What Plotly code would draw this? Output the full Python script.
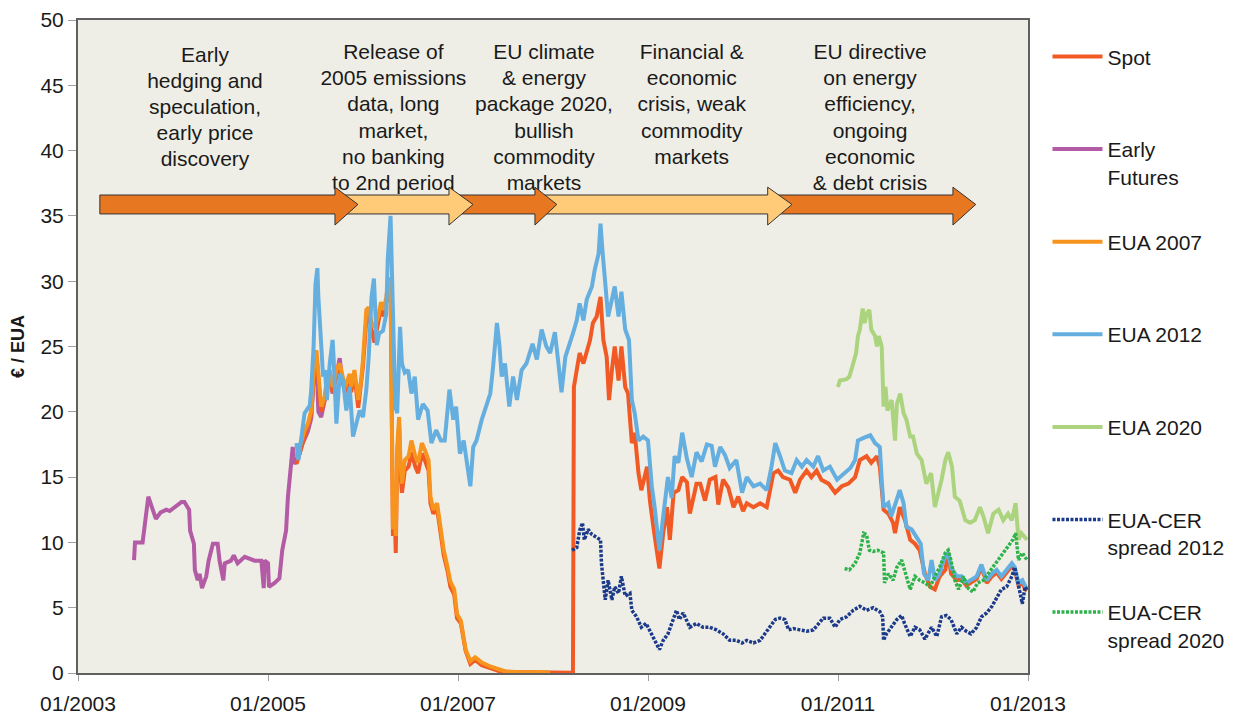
import plotly.graph_objects as go

# ---------------- data (decimal year, €/EUA) ----------------
early_x = [2003.59, 2003.60, 2003.68, 2003.74, 2003.82, 2003.87, 2003.93, 2003.965, 2004.09, 2004.12,
           2004.17, 2004.18, 2004.22, 2004.23, 2004.26, 2004.28, 2004.305, 2004.35, 2004.375, 2004.42,
           2004.47, 2004.49, 2004.53, 2004.545, 2004.61, 2004.64, 2004.68, 2004.755, 2004.86, 2004.93,
           2004.955, 2004.965, 2005.0, 2005.01, 2005.07, 2005.12, 2005.15, 2005.19, 2005.21, 2005.23,
           2005.26, 2005.28, 2005.32, 2005.36, 2005.42, 2005.455, 2005.49, 2005.51, 2005.53, 2005.56,
           2005.60, 2005.62, 2005.65, 2005.68, 2005.72, 2005.755, 2005.78]
early_y = [8.65, 10.0, 10.0, 13.5, 11.8, 12.3, 12.5, 12.4, 13.1, 13.1,
           12.5, 10.9, 9.9, 7.9, 7.1, 7.6, 6.5, 7.4, 8.6, 9.9,
           9.9, 8.6, 7.1, 8.4, 8.6, 9.0, 8.4, 8.9, 8.6, 8.6,
           6.5, 8.6, 8.4, 6.6, 6.9, 7.25, 9.4, 10.9, 13.5, 15.0,
           17.3, 16.0, 16.5, 17.5, 18.5, 19.5, 23.8, 24.3, 20.0, 19.6,
           21.0, 22.4, 23.0, 21.4, 23.0, 24.1, 22.5]

spot_x = [2005.30, 2005.36, 2005.42, 2005.455, 2005.49, 2005.51, 2005.53, 2005.56, 2005.60, 2005.62,
          2005.65, 2005.68, 2005.72, 2005.755, 2005.81, 2005.86, 2005.875, 2005.91, 2005.95, 2005.98,
          2006.0, 2006.035, 2006.06, 2006.09, 2006.12, 2006.16, 2006.19, 2006.22, 2006.245, 2006.27,
          2006.29, 2006.30, 2006.315, 2006.33, 2006.345, 2006.36, 2006.38, 2006.395, 2006.41, 2006.44,
          2006.48, 2006.51, 2006.55, 2006.58, 2006.62, 2006.65, 2006.69, 2006.71, 2006.74, 2006.78,
          2006.82, 2006.85, 2006.89, 2006.92, 2006.96, 2006.99, 2007.03, 2007.08, 2007.13, 2007.18,
          2007.25, 2007.34, 2007.43, 2007.55, 2007.8, 2008.0, 2008.21,
          2008.22, 2008.25, 2008.28, 2008.32, 2008.355, 2008.39, 2008.42, 2008.46, 2008.50, 2008.53,
          2008.565, 2008.59, 2008.62, 2008.65, 2008.69, 2008.72, 2008.76, 2008.79, 2008.83, 2008.86,
          2008.90, 2008.93, 2008.99, 2009.02, 2009.06, 2009.09, 2009.12, 2009.16, 2009.20, 2009.23,
          2009.27, 2009.32, 2009.36, 2009.41, 2009.44, 2009.49, 2009.51, 2009.55, 2009.60, 2009.65,
          2009.71, 2009.74, 2009.79, 2009.845, 2009.90, 2009.95, 2010.00, 2010.04, 2010.11, 2010.18,
          2010.25, 2010.32, 2010.37, 2010.42, 2010.495, 2010.55, 2010.60, 2010.67, 2010.72, 2010.775,
          2010.825, 2010.90, 2010.97, 2011.04, 2011.11, 2011.18, 2011.23, 2011.30, 2011.35, 2011.41,
          2011.44, 2011.48, 2011.53, 2011.58, 2011.60, 2011.65, 2011.705, 2011.76, 2011.81, 2011.86,
          2011.915, 2011.97, 2012.02, 2012.07, 2012.13, 2012.16, 2012.19, 2012.25, 2012.30, 2012.35,
          2012.40, 2012.46, 2012.51, 2012.565, 2012.62, 2012.67, 2012.72, 2012.775, 2012.83, 2012.86,
          2012.90, 2012.94, 2012.97, 2012.99]
spot_y = [16.0, 17.5, 18.8, 19.8, 23.5, 24.3, 22.5, 20.0, 21.0, 22.3,
          22.8, 21.5, 22.8, 23.3, 21.5, 22.5, 21.5, 22.8, 20.3, 22.0,
          23.5, 27.0, 27.5, 26.3, 25.3, 26.8, 28.0, 27.3, 28.3, 29.5,
          29.8, 20.0, 10.5, 13.0, 9.2, 16.5, 19.0, 15.3, 13.8, 15.5,
          15.8, 16.9, 15.8, 15.3, 16.8, 16.3, 15.5, 13.0, 12.2, 12.6,
          10.5, 9.0, 7.8, 6.6, 6.0, 4.2, 3.8, 1.7, 0.7, 1.0,
          0.6, 0.4, 0.15, 0.08, 0.03, 0.02, 0.02,
          21.9, 23.2, 24.5, 23.7, 24.5, 25.5, 26.8, 27.3, 28.8, 25.5,
          24.2, 20.9, 23.2, 25.0, 22.4, 25.0, 21.9, 21.4, 17.6, 18.4,
          15.3, 14.0, 15.8, 13.2, 11.0, 9.2, 8.0, 10.7, 12.7, 10.2,
          13.8, 14.0, 15.0, 14.6, 12.2, 13.8, 14.5, 14.5, 13.2, 14.8,
          15.0, 12.9, 14.8, 14.2, 12.7, 13.5, 12.4, 13.0, 12.7, 13.0,
          12.7, 15.3, 15.5, 15.0, 14.8, 13.8, 14.8, 15.5, 15.0, 15.5,
          14.8, 14.5, 13.8, 14.3, 14.5, 15.0, 16.3, 16.6, 16.1, 16.6,
          15.8, 12.5, 12.2, 11.5, 10.7, 12.7, 11.7, 10.2, 9.9, 9.4,
          7.6, 6.6, 6.4, 7.4, 7.9, 9.2, 7.6, 7.1, 7.2, 6.7,
          6.9, 7.2, 8.1, 6.9, 7.4, 7.7, 7.2, 7.7, 8.2, 7.9,
          6.7, 6.9, 6.4, 6.3]

eua2007_x = [2005.30, 2005.36, 2005.385, 2005.42, 2005.455, 2005.49, 2005.51, 2005.53, 2005.56, 2005.60,
             2005.62, 2005.65, 2005.68, 2005.72, 2005.755, 2005.81, 2005.86, 2005.875, 2005.91, 2005.95,
             2005.98, 2006.0, 2006.035, 2006.06, 2006.09, 2006.12, 2006.16, 2006.19, 2006.22, 2006.245,
             2006.27, 2006.29, 2006.30, 2006.315, 2006.33, 2006.345, 2006.36, 2006.38, 2006.395, 2006.41,
             2006.44, 2006.48, 2006.51, 2006.55, 2006.58, 2006.62, 2006.65, 2006.69, 2006.71, 2006.74,
             2006.78, 2006.82, 2006.85, 2006.89, 2006.92, 2006.96, 2006.99, 2007.03, 2007.06, 2007.08,
             2007.13, 2007.18, 2007.2, 2007.25, 2007.34, 2007.43, 2007.5, 2007.6, 2007.8, 2007.97]
eua2007_y = [16.5, 18.0, 18.6, 19.1, 20.1, 24.2, 24.7, 23.0, 20.4, 21.2,
             22.7, 23.2, 21.9, 23.2, 23.7, 21.9, 22.9, 21.9, 23.2, 20.9,
             22.4, 24.0, 27.8, 28.0, 26.8, 26.5, 27.3, 28.4, 27.8, 28.8,
             30.1, 30.2, 20.4, 11.0, 13.5, 10.5, 17.3, 19.6, 16.1, 14.5,
             16.3, 16.6, 17.8, 16.6, 16.1, 17.6, 17.1, 16.3, 13.5, 12.5,
             13.0, 10.9, 9.4, 8.1, 7.0, 6.4, 4.5, 4.0, 2.6, 1.8,
             0.9, 1.2, 1.1, 0.8, 0.5, 0.25, 0.12, 0.08, 0.06, 0.04]

eua2012_x = [2005.30, 2005.32, 2005.385, 2005.44, 2005.455, 2005.48, 2005.50, 2005.52, 2005.53, 2005.555,
             2005.58, 2005.60, 2005.62, 2005.65, 2005.68, 2005.69, 2005.72, 2005.755, 2005.79, 2005.825,
             2005.86, 2005.895, 2005.93, 2005.965, 2006.0, 2006.035, 2006.06, 2006.09, 2006.115, 2006.13,
             2006.145, 2006.17, 2006.21, 2006.245, 2006.26, 2006.29, 2006.30, 2006.32, 2006.34, 2006.36,
             2006.375, 2006.39, 2006.41, 2006.44, 2006.475, 2006.51, 2006.545, 2006.58, 2006.63, 2006.68,
             2006.72, 2006.77, 2006.82, 2006.86, 2006.91, 2006.95, 2006.98, 2007.02, 2007.06, 2007.09,
             2007.13, 2007.16, 2007.195, 2007.25, 2007.30, 2007.34, 2007.37, 2007.41, 2007.435, 2007.46,
             2007.495, 2007.54, 2007.58, 2007.62, 2007.67, 2007.72, 2007.785, 2007.83, 2007.88, 2007.93,
             2007.97, 2008.02, 2008.06, 2008.09, 2008.13, 2008.18, 2008.21, 2008.25, 2008.28, 2008.32,
             2008.355, 2008.41, 2008.44, 2008.48, 2008.50, 2008.52, 2008.55, 2008.58, 2008.62, 2008.65,
             2008.69, 2008.72, 2008.76, 2008.80, 2008.83, 2008.86, 2008.90, 2008.95, 2009.00, 2009.04,
             2009.07, 2009.12, 2009.16, 2009.21, 2009.25, 2009.28, 2009.32, 2009.36, 2009.41, 2009.46,
             2009.51, 2009.565, 2009.62, 2009.67, 2009.705, 2009.76, 2009.81, 2009.86, 2009.93, 2009.99,
             2010.04, 2010.11, 2010.18, 2010.25, 2010.30, 2010.34, 2010.39, 2010.44, 2010.51, 2010.565,
             2010.62, 2010.67, 2010.74, 2010.79, 2010.845, 2010.915, 2010.99, 2011.06, 2011.13, 2011.18,
             2011.21, 2011.27, 2011.34, 2011.39, 2011.44, 2011.46, 2011.48, 2011.53, 2011.56, 2011.615,
             2011.65, 2011.69, 2011.72, 2011.775, 2011.83, 2011.87, 2011.905, 2011.95, 2011.985, 2012.02,
             2012.07, 2012.11, 2012.16, 2012.19, 2012.25, 2012.30, 2012.35, 2012.40, 2012.46, 2012.51,
             2012.565, 2012.62, 2012.67, 2012.72, 2012.775, 2012.83, 2012.86, 2012.90, 2012.94, 2012.97,
             2012.99]
eua2012_y = [17.6, 16.3, 19.9, 20.5, 21.7, 25.0, 29.8, 31.0, 28.8, 25.0,
             22.7, 23.2, 20.9, 23.7, 25.5, 24.2, 19.1, 22.9, 22.4, 20.1,
             21.9, 18.1, 19.1, 20.1, 19.6, 21.7, 24.2, 28.8, 30.2, 27.5,
             25.1, 26.0, 26.2, 27.5, 31.6, 35.0, 31.9, 23.7, 20.4, 19.9,
             24.2, 26.5, 23.7, 23.0, 23.2, 21.4, 22.7, 19.4, 20.6, 20.1,
             17.6, 18.6, 17.8, 17.8, 21.7, 19.4, 20.4, 16.8, 17.8, 16.1,
             14.3, 17.3, 17.8, 19.4, 20.4, 21.4, 23.5, 26.8, 25.2, 22.7,
             23.7, 20.4, 22.7, 20.9, 23.2, 23.7, 25.2, 24.0, 26.3, 25.0,
             24.5, 26.1, 23.5, 21.5, 24.2, 25.5, 26.0, 27.0, 28.3, 27.0,
             28.6, 29.6, 30.9, 32.1, 34.4, 32.4, 30.1, 27.3, 28.6, 29.6,
             27.3, 29.2, 26.3, 25.5, 20.9, 19.9, 17.8, 18.1, 17.8, 14.3,
             12.7, 9.4, 12.0, 15.0, 13.4, 16.6, 16.1, 18.4, 16.4, 15.0,
             16.9, 16.2, 17.5, 17.4, 15.8, 17.3, 16.7, 15.7, 16.3, 13.8,
             15.0, 14.3, 14.5, 14.0, 15.8, 17.6, 16.6, 15.5, 15.3, 16.3,
             15.8, 16.3, 15.8, 16.6, 15.5, 15.8, 14.8, 15.3, 15.7, 16.3,
             17.8, 18.0, 18.2, 17.6, 17.3, 14.8, 12.7, 13.0, 12.0, 13.2,
             14.0, 13.0, 11.2, 11.0, 10.4, 9.9, 7.6, 7.1, 8.65, 7.1,
             7.6, 8.65, 9.2, 8.1, 7.4, 7.4, 6.9, 7.1, 7.4, 8.3,
             7.1, 7.6, 7.9, 7.4, 7.9, 8.4, 8.1, 6.9, 7.1, 6.6,
             6.4]

eua2020_x = [2011.00, 2011.02, 2011.09, 2011.12, 2011.16, 2011.19, 2011.21, 2011.23, 2011.26, 2011.28,
             2011.30, 2011.33, 2011.35, 2011.39, 2011.41, 2011.43, 2011.46, 2011.48, 2011.50, 2011.52,
             2011.565, 2011.60, 2011.62, 2011.655, 2011.69, 2011.72, 2011.76, 2011.79, 2011.83, 2011.88,
             2011.93, 2011.98, 2012.02, 2012.06, 2012.09, 2012.13, 2012.16, 2012.20, 2012.23, 2012.28,
             2012.34, 2012.39, 2012.44, 2012.495, 2012.53, 2012.58, 2012.635, 2012.69, 2012.74, 2012.79,
             2012.83, 2012.87, 2012.90, 2012.93, 2012.99]
eua2020_y = [21.9, 22.4, 22.5, 22.7, 23.7, 24.5, 25.8, 26.3, 27.9, 26.8,
             27.5, 27.8, 26.3, 25.8, 25.0, 25.8, 25.0, 20.4, 21.9, 20.1,
             20.9, 17.8, 20.6, 21.4, 19.9, 19.4, 18.1, 18.1, 16.8, 16.3,
             14.5, 15.3, 12.7, 13.8, 14.8, 16.3, 16.9, 15.8, 13.5, 13.2,
             11.7, 11.5, 11.7, 12.7, 12.0, 10.7, 12.2, 12.5, 11.7, 12.2,
             11.7, 13.0, 10.2, 10.7, 10.2]

cer2012_x = [2008.20, 2008.25, 2008.28, 2008.31, 2008.33, 2008.37, 2008.41, 2008.46, 2008.50, 2008.51,
             2008.53, 2008.55, 2008.58, 2008.62, 2008.65, 2008.69, 2008.72, 2008.76, 2008.81, 2008.83,
             2008.88, 2008.93, 2008.98, 2009.04, 2009.07, 2009.12, 2009.16, 2009.21, 2009.25, 2009.30,
             2009.33, 2009.37, 2009.44, 2009.51, 2009.58, 2009.65, 2009.72, 2009.79, 2009.86, 2009.93,
             2009.99, 2010.04, 2010.11, 2010.18, 2010.23, 2010.28, 2010.34, 2010.39, 2010.44, 2010.48,
             2010.53, 2010.60, 2010.67, 2010.74, 2010.79, 2010.845, 2010.915, 2010.97, 2011.02, 2011.09,
             2011.16, 2011.23, 2011.30, 2011.37, 2011.44, 2011.47, 2011.48, 2011.51, 2011.56, 2011.62,
             2011.67, 2011.70, 2011.76, 2011.81, 2011.86, 2011.915, 2011.985, 2012.04, 2012.09, 2012.14,
             2012.19, 2012.25, 2012.30, 2012.35, 2012.40, 2012.46, 2012.51, 2012.565, 2012.62, 2012.67,
             2012.72, 2012.775, 2012.83, 2012.86, 2012.90, 2012.94, 2012.97, 2012.99]
cer2012_y = [9.4, 9.6, 10.9, 11.5, 10.2, 11.0, 10.6, 10.4, 10.2, 8.4,
             7.1, 5.6, 7.1, 5.6, 6.6, 6.1, 7.4, 5.9, 6.1, 4.8,
             4.3, 3.5, 3.8, 3.0, 2.5, 1.8, 2.5, 3.0, 3.8, 4.8,
             4.1, 4.6, 3.5, 3.8, 3.5, 3.5, 3.3, 3.0, 2.5, 2.5,
             2.3, 2.5, 2.3, 2.5, 3.0, 3.5, 4.1, 4.2, 4.1, 3.3,
             3.4, 3.3, 3.2, 3.3, 3.7, 4.2, 4.2, 3.5, 4.1, 4.3,
             4.8, 5.1, 4.8, 5.0, 4.7, 4.3, 2.5, 3.0, 3.5, 4.1,
             4.4, 3.8, 2.8, 3.5, 3.3, 2.6, 3.5, 2.8, 4.3, 4.4,
             4.1, 3.0, 3.5, 3.2, 3.0, 3.5, 4.3, 4.6, 5.1, 5.8,
             6.4, 6.6, 7.4, 8.1, 6.6, 5.3, 6.6, 6.3]

cer2020_x = [2011.07, 2011.12, 2011.18, 2011.23, 2011.27, 2011.30, 2011.33, 2011.37, 2011.42, 2011.48,
             2011.49, 2011.53, 2011.58, 2011.62, 2011.67, 2011.71, 2011.76, 2011.81, 2011.86, 2011.915,
             2011.97, 2012.02, 2012.07, 2012.13, 2012.16, 2012.19, 2012.23, 2012.27, 2012.32, 2012.37,
             2012.42, 2012.47, 2012.53, 2012.58, 2012.63, 2012.68, 2012.74, 2012.79, 2012.84, 2012.87,
             2012.90, 2012.94, 2012.99]
cer2020_y = [8.0, 7.9, 8.4, 9.2, 10.7, 10.6, 9.4, 9.3, 9.4, 9.2,
             6.9, 7.6, 7.1, 8.1, 8.65, 7.6, 6.4, 7.4, 7.1, 6.9,
             6.6, 7.4, 8.1, 9.2, 9.4, 8.6, 7.1, 6.4, 7.4, 6.5,
             6.2, 6.9, 7.1, 7.6, 8.1, 8.65, 9.2, 9.7, 10.2, 10.7,
             8.65, 9.2, 8.65]

tick_vals = [2003, 2005, 2007, 2009, 2011, 2013]
tick_text = ["01/2003", "01/2005", "01/2007", "01/2009", "01/2011", "01/2013"]

phase_labels = [
    ["Early", "hedging and", "speculation,", "early price", "discovery"],
    ["Release of", "2005 emissions", "data, long", "market,", "no banking", "to 2nd period"],
    ["EU climate", "& energy", "package 2020,", "bullish", "commodity", "markets"],
    ["Financial &", "economic", "crisis, weak", "commodity", "markets"],
    ["EU directive", "on energy", "efficiency,", "ongoing", "economic", "& debt crisis"],
]

# ---------------- styling / layout ----------------
FONT = "Liberation Sans, Arial, sans-serif"
TXT = "#1a1a1a"
AXIS = "#606060"

fig = go.Figure()

def add_line(x, y, name, color, rank, dash="solid", width=4):
    fig.add_trace(go.Scatter(
        x=x, y=y, mode="lines", name=name, legendgroup=name, legendrank=rank,
        line=dict(color=color, width=width, dash=dash), hoverinfo="skip"))

add_line(early_x, early_y, "Early<br>Futures", "#B35BA5", 2)
add_line(spot_x, spot_y, "Spot<br> ", "#F15A24", 1)
add_line(eua2007_x, eua2007_y, "EUA 2007<br> ", "#F7941D", 3)
add_line(eua2012_x, eua2012_y, "EUA 2012<br> ", "#64AEE0", 4)
add_line(eua2020_x, eua2020_y, "EUA 2020<br> ", "#ACD47F", 5)
add_line(cer2012_x, cer2012_y, "EUA-CER<br>spread 2012", "#1B3A8A", 6, dash="3px,1.5px", width=3.5)
add_line(cer2020_x, cer2020_y, "EUA-CER<br>spread 2020", "#2DB34A", 7, dash="3px,1.5px", width=3.5)

# phase description texts (drawn as a text trace so the arrows can sit over them)
centers = [2004.337, 2006.32, 2007.905, 2009.46, 2011.337]
tops = [47.2, 47.4, 47.4, 47.4, 47.4]
tx, ty, tt = [], [], []
for cx, top, lines in zip(centers, tops, phase_labels):
    for i, ln in enumerate(lines):
        tx.append(cx)
        ty.append(top - i * 2.0)
        tt.append(ln)
fig.add_trace(go.Scatter(x=tx, y=ty, text=tt, mode="text", textposition="middle center",
                         textfont=dict(family=FONT, size=21, color=TXT),
                         showlegend=False, hoverinfo="skip", cliponaxis=False))

# arrows: (start, head base, tip, colour); drawn last-first so earlier ones overlap
arrows = [
    (2003.23, 2005.705, 2005.947, "#E87722"),
    (2005.76, 2006.905, 2007.158, "#FFCB78"),
    (2006.97, 2007.81, 2008.04, "#E87722"),
    (2007.86, 2010.26, 2010.515, "#FFCB78"),
    (2010.34, 2012.21, 2012.45, "#E87722"),
]
b0, b1, h0, h1, ym = 35.15, 36.6, 34.3, 37.2, 35.875
shapes = []
for x0, xh, xt, col in reversed(arrows):
    path = (f"M {x0},{b0} L {xh},{b0} L {xh},{h0} L {xt},{ym} L {xh},{h1} "
            f"L {xh},{b1} L {x0},{b1} Z")
    shapes.append(dict(type="path", path=path, xref="x", yref="y", fillcolor=col,
                       line=dict(color="#333333", width=1), layer="above"))

# the page body has an 8px margin, so the figure is sized to fit the window after it
fig.update_layout(
    width=1227, height=707,
    margin=dict(l=70, r=207, t=12, b=42, autoexpand=False),
    paper_bgcolor="white", plot_bgcolor="#EFEEE6",
    font=dict(family=FONT, size=21, color=TXT),
    shapes=shapes,
    showlegend=True,
    legend=dict(x=1.0205, y=0.975, xanchor="left", yanchor="top", valign="top",
                font=dict(family=FONT, size=21, color=TXT), tracegroupgap=35,
                bgcolor="rgba(0,0,0,0)", itemwidth=50),
    xaxis=dict(range=[2003, 2013], tickvals=tick_vals, ticktext=tick_text, automargin=False,
               showgrid=False, zeroline=False, showline=True, linecolor=AXIS, linewidth=2,
               mirror=True, ticks="outside", ticklen=6, tickcolor="#a0a0a0", ticklabelstandoff=5,
               tickfont=dict(family=FONT, size=21, color=TXT)),
    yaxis=dict(range=[0, 50], dtick=5, showgrid=False, zeroline=False, showline=True, automargin=False,
               linecolor=AXIS, linewidth=2, mirror=True, ticks="outside", ticklen=8,
               tickcolor="#a0a0a0", tickfont=dict(family=FONT, size=21, color=TXT),
               title=dict(text="<b>€ / EUA</b>", font=dict(family=FONT, size=18, color=TXT),
                          standoff=12)),
)

fig.write_html("out.html")
